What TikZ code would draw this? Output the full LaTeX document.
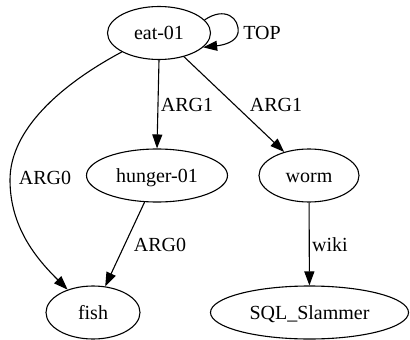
\documentclass[tikz,border=0pt]{standalone}
\usepackage{fontspec}
\setmainfont{Liberation Serif}
\newfontfamily\graphfont{Liberation Serif}
\usetikzlibrary{shapes.geometric,arrows.meta}
\begin{document}
\begin{tikzpicture}[x=1pt,y=-1pt,
  font=\graphfont\fontsize{20}{24}\selectfont,
  concept/.style={draw, ellipse, line width=1.1pt, inner sep=0pt,
    text height=13.5pt, text depth=0pt, minimum height=53pt},
  rel/.style={inner sep=0pt, text height=13.5pt, text depth=0pt},
  edge/.style={draw, line width=1.1pt, -{Triangle[length=14pt,width=10pt]}}]
\useasboundingbox (0,0) rectangle (410,340);

% concepts
\node[concept, minimum width=103pt] (eat)    at (159,33)    {eat-01};
\node[concept, minimum width=141pt] (hunger) at (157,175.5) {hunger-01};
\node[concept, minimum width=100pt] (worm)   at (309,175.5) {worm};
\node[concept, minimum width=94pt]  (fish)   at (93,312.5)  {fish};
\node[concept, minimum width=198pt] (sql)    at (309.5,312.5) {SQL\_Slammer};

% relation labels
\node[rel] (ltop)  at (262,33)  {TOP};
\node[rel] (larg0) at (45,178)  {ARG0};
\node[rel] (lh)    at (187,105) {ARG1};
\node[rel] (lw)    at (276,105) {ARG1};
\node[rel] (lf)    at (160,245) {ARG0};
\node[rel] (lwiki) at (330,245) {wiki};

% relations
\draw[edge] (eat.16) .. controls (225,6) and (240,18) .. (238,33)
            .. controls (236,42) and (224,45) .. (eat.-18);
\draw[edge] (eat.207) .. controls (60,85) and (10,130) .. (10,180)
            .. controls (10,230) and (40,262) .. (fish.138);
\draw[edge] (eat.south) -- (hunger.north);
\draw[edge] (eat) -- (worm);
\draw[edge] (hunger) -- (fish);
\draw[edge] (worm) -- (sql);
\end{tikzpicture}
\end{document}
